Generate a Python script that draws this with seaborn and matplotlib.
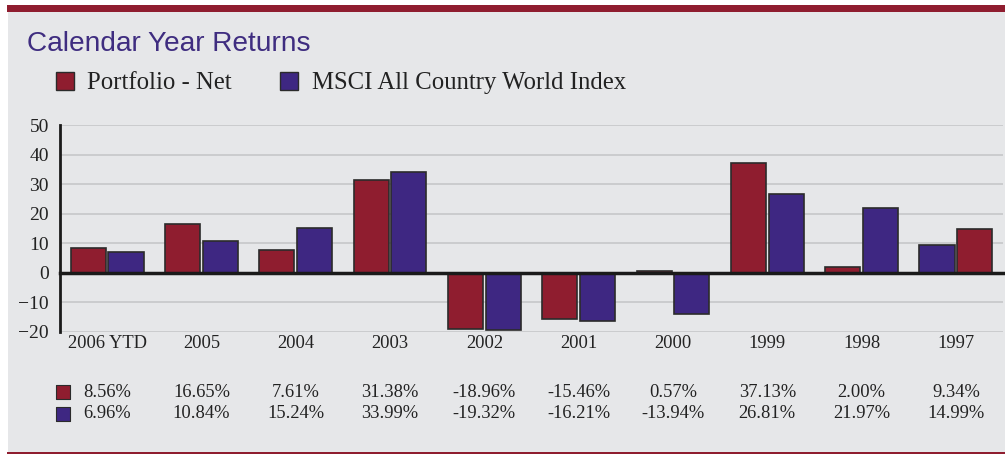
import pandas as pd
import numpy as np
import seaborn as sns
from matplotlib import pyplot as plt
from matplotlib.patches import Rectangle, Patch
import matplotlib.transforms as mtransforms

# data
years = ['2006 YTD', '2005', '2004', '2003', '2002', '2001', '2000', '1999', '1998', '1997']
portfolio = [8.56, 16.65, 7.61, 31.38, -18.96, -15.46, 0.57, 37.13, 2.00, 9.34]
msci = [6.96, 10.84, 15.24, 33.99, -19.32, -16.21, -13.94, 26.81, 21.97, 14.99]
series = ['Portfolio - Net', 'MSCI All Country World Index']

red = '#8f1d2f'
purple = '#3e2782'
panel = '#e6e7e9'

df = pd.DataFrame({
    'Year': years * 2,
    'Return': portfolio + msci,
    'Series': [series[0]] * len(years) + [series[1]] * len(years),
})

sns.set_style('white')
plt.rcParams['font.family'] = ['Liberation Serif', 'DejaVu Serif']

fig = plt.figure(figsize=(10.05, 4.54), dpi=100)
fig.patch.set_facecolor('white')
# grey panel and red bands
fig.patches.append(Rectangle((8/1005, 2/454), 1, 440/454, transform=fig.transFigure,
                             facecolor=panel, edgecolor='none', zorder=-10))
fig.patches.append(Rectangle((7/1005, 442/454), 1, 7/454, transform=fig.transFigure,
                             facecolor=red, edgecolor='none', zorder=-9))
fig.patches.append(Rectangle((7/1005, 0), 1, 2.5/454, transform=fig.transFigure,
                             facecolor=red, edgecolor='none', zorder=-9))

ax = fig.add_axes([60/1005, 122/454, 943/1005, 207/454])
ax.set_facecolor('none')

sns.barplot(data=df, x='Year', y='Return', hue='Series', order=years, hue_order=series,
            palette={series[0]: red, series[1]: purple}, width=0.8, gap=0.07,
            edgecolor='#2b2b2b', linewidth=1.2, saturation=1, legend=False, ax=ax, zorder=3)

# in the reference the 1997 pair is drawn with swapped colours
ax.containers[0][9].set_facecolor(purple)
ax.containers[1][9].set_facecolor(red)

ax.set_ylim(-20, 50)
ax.set_xlim(-0.5, 9.5)
ax.set_yticks(range(-20, 51, 10))
ax.yaxis.grid(True, color='#c9cacc', lw=1.3, zorder=0)
ax.set_axisbelow(True)

ax.spines['top'].set_visible(False)
ax.spines['right'].set_visible(False)
ax.spines['left'].set_linewidth(2)
ax.spines['left'].set_color('#1a1a1a')
ax.spines['bottom'].set_position(('data', 0))
ax.spines['bottom'].set_linewidth(2.5)
ax.spines['bottom'].set_color('#1a1a1a')
ax.spines['bottom'].set_zorder(4)

ax.set_xticks(np.arange(0.5, 10, 1), minor=True)
ax.tick_params(axis='x', which='minor', direction='in', length=4, width=2, color='#1a1a1a')
ax.tick_params(axis='x', which='major', length=0, pad=45, labelsize=13.3, labelcolor='#222222')
ax.tick_params(axis='y', length=0, pad=8, labelsize=14, labelcolor='#222222')
ax.set_xlabel('')
ax.set_ylabel('')

# values table under the chart
trans = mtransforms.blended_transform_factory(ax.transData, ax.transAxes)
for row, (vals, col) in enumerate([(portfolio, red), (msci, purple)]):
    yy = -0.29 - row * 0.106
    ax.scatter([-0.463], [yy], marker='s', s=90, color=col, edgecolor='#2b2b2b',
               linewidth=0.8, transform=trans, clip_on=False)
    for i, v in enumerate(vals):
        ax.text(i, yy, '{:.2f}%'.format(v), transform=trans, ha='center', va='center',
                fontsize=13.3, color='#222222')

fig.text(27/1005, 1 - 51/454, 'Calendar Year Returns', family=['Liberation Sans', 'DejaVu Sans'],
         fontsize=20.2, color='#3f2d80', ha='left', va='baseline')

handles = [Patch(facecolor=red, edgecolor='#2b2b2b', lw=1), Patch(facecolor=purple, edgecolor='#2b2b2b', lw=1)]
fig.legend(handles, series, loc='upper left', bbox_to_anchor=(46/1005, 1 - 62/454), ncol=2,
           frameon=False, fontsize=17.8, handlelength=0.72, handleheight=0.72,
           handletextpad=0.55, columnspacing=1.95, borderaxespad=0, labelcolor='#222222')

plt.savefig('out.png', dpi=100, facecolor=fig.get_facecolor())
